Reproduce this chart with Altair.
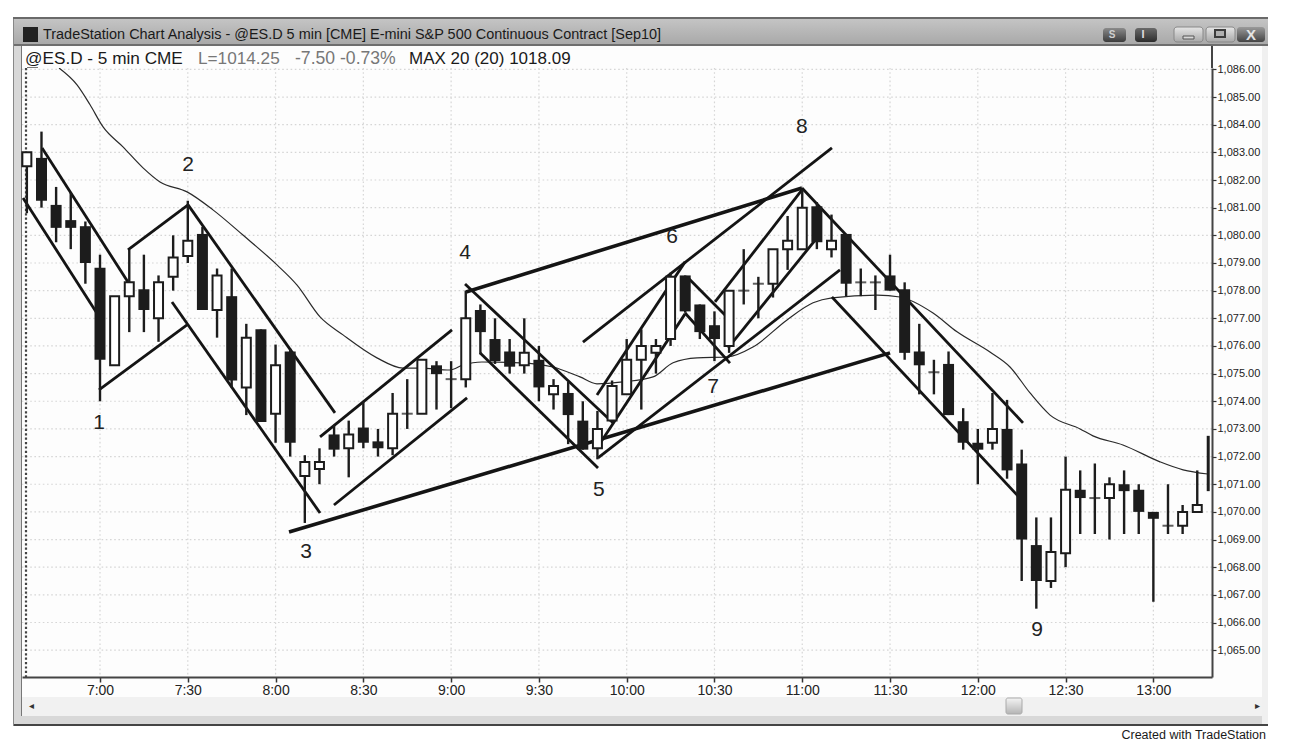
import json
import altair as alt
import pandas as pd

FONT = "Liberation Sans"
INK = "#1c1c1c"

# bar index: 0 = 7:00, one step = 5 minutes
bar_index = list(range(-5, 76))
opens = [1082.5,1082.8,1081.1,1080.55,1080.33,1078.83,1075.3,1077.8,1078.05,1077,1078.5,1079.25,1080.05,1077.3,1077.8,1074.5,1076.6,1073.55,1075.8,1071.3,1071.55,
         1072.8,1072.3,1073.05,1072.55,1072.3,1073.55,1073.55,1075.3,1074.8,1074.8,1077.3,1076.25,1075.8,1075.3,1075.5,1074.25,1074.3,1073.3,1072.3,1073.3,
         1074.25,1075.5,1075.75,1076.25,1078.55,1077.5,1076.75,1076,1078,1078.25,1078.25,1079.5,1079.5,1081.05,1079.5,1080.05,1078.3,1078.3,1078.55,1078.05,
         1075.8,1075.05,1075.35,1073.28,1072.5,1072.5,1073,1071.75,1068.8,1067.5,1068.5,1070.8,1070.5,1070.5,1071,1070.8,1070,1069.5,1069.5,1070]
closes = [1083,1081.25,1080.27,1080.27,1079,1075.5,1077.8,1078.3,1077.3,1078.3,1079.2,1079.8,1077.3,1078.55,1074.75,1076.3,1073.25,1075.3,1072.5,1071.8,1071.8,
          1072.25,1072.8,1072.5,1072.3,1073.55,1073.55,1075.5,1074.98,1074.8,1077,1076.5,1075.45,1075.25,1075.75,1074.5,1074.55,1073.5,1072.25,1073,1074.55,
          1075.5,1076,1076,1078.5,1077.25,1076.5,1076.25,1078,1078,1078.25,1079.5,1079.8,1081,1079.75,1079.8,1078.25,1078.3,1078.3,1078,1075.75,
          1075.3,1075.05,1073.5,1072.5,1072.25,1073,1071.5,1069,1067.5,1068.55,1070.8,1070.5,1070.5,1071,1070.75,1070,1069.75,1069.5,1070,1070.25]
highs = [1083,1083.75,1081.75,1081.55,1080.5,1079.3,1077.8,1079.47,1079.3,1078.55,1080,1081.25,1080.3,1078.8,1078.8,1076.8,1076.6,1076.05,1075.9,1072.05,1072.3,
         1073.15,1073.3,1074,1073,1074.3,1074.8,1075.5,1075.45,1075.45,1078,1077.5,1077,1076.25,1077,1076,1074.8,1074.7,1074,1073.65,1074.75,
         1076.25,1076.6,1076.25,1078.65,1078.55,1077.5,1077.25,1078,1079.5,1078.5,1079.5,1080.7,1081.65,1081.2,1080.75,1080.05,1078.8,1078.55,1079.3,1078.3,
         1076.8,1075.5,1075.8,1073.75,1073,1074.3,1074.05,1072.25,1069.8,1069.8,1072,1071.5,1071.75,1071.25,1071.5,1071,1070,1071,1070.25,1071.5]
lows = [1080.8,1081,1079.75,1079.5,1078.25,1074,1075.3,1076.5,1076.5,1076.15,1078,1079,1077.3,1076.3,1074.5,1073.5,1073.25,1072.5,1072,1069.6,1071,
        1072,1071.25,1072.3,1072,1072.05,1073,1073.55,1073.7,1073.75,1074.5,1075.7,1075.35,1075,1075,1074,1073.7,1072.45,1072.25,1071.9,1073.3,
        1074.25,1073.7,1075,1076,1077.2,1076.25,1075.45,1075.75,1077.5,1077,1077.75,1078.75,1079.5,1079.5,1079.2,1077.8,1077.8,1077.3,1078,1075.5,
        1074.25,1074.25,1073.5,1072.25,1071,1072.25,1071.2,1067.5,1066.5,1067.25,1068,1069.2,1069.2,1069,1069.2,1069.2,1066.75,1069.2,1069.2,1070]

# the partly hidden last bar beside the price axis
last_bar = {"k": 75.75, "high": 1072.75, "low": 1070.75}

ma_k = [-2.8,-1.57,-0.68,0.21,1.57,2.94,4.1,5.95,7.72,9.77,12.1,13.47,15.04,16.61,18.93,20.71,21.87,23.92,24.81,26.11,28.71,30.96,32.81,33.97,35.75,37.8,39.17,40.81,42.86,44.63,46.96,48.74,50.03,53.11,54.68,56.94,58.58,60.83,62.2,63.57,64.94,66.99,67.87,69.92,72.45,74.03,75.73]
ma_p = [1086.05,1085.44,1084.72,1083.92,1083.2,1082.44,1081.93,1081.57,1080.92,1080.01,1078.93,1078.2,1077.05,1076.4,1075.57,1075.2,1075.2,1075.13,1075.31,1075.42,1075.39,1075.24,1074.88,1074.63,1074.7,1074.88,1075.39,1075.57,1075.6,1075.96,1076.94,1077.56,1077.74,1077.84,1077.77,1077.19,1076.51,1075.78,1075.24,1074.3,1073.5,1073,1072.75,1072.42,1071.81,1071.52,1071.37]

# k1, p1, k2, p2
thin_lines = [
    (-3.96,1083.16,1.91,1078.31),(-5.26,1081.35,0,1077.01),(1.91,1079.47,6.02,1081.1),(-0.07,1074.41,5.95,1076.76),
    (6.02,1081.1,16.06,1073.58),(4.92,1077.59,15.04,1069.96),(15.04,1072.71,24.06,1076.58),(15.99,1070.25,25.09,1074.12),
    (24.95,1078.24,35.06,1073.22),(25.97,1075.75,34.04,1071.59),(33.01,1076.14,50.03,1083.16),(33.97,1074.23,39.99,1079.04),
    (33.97,1072.31,39.99,1077.16),(40.12,1078.5,43.06,1076.94),(39.99,1077.19,43.06,1075.38),(34.04,1071.95,50.58,1078.75),
    (42.04,1077.59,47.98,1081.64),(42.93,1075.93,49.01,1079.91),(47.98,1081.71,63.09,1073.22),(50.03,1077.77,62.88,1070.5),
]
thick_lines = [(12.92,1069.27,54.0,1075.75),(25.02,1077.95,47.98,1081.71)]

label_text = ["1","2","3","4","5","6","7","8","9"]
label_k = [-0.07,6.02,14.08,24.95,34.1,39.1,41.9,47.98,64.05]
label_p = [1073.22,1082.55,1068.55,1079.36,1070.79,1079.94,1074.52,1083.92,1065.73]

time_labels = ["7:00","7:30","8:00","8:30","9:00","9:30","10:00","10:30","11:00","11:30","12:00","12:30","13:00"]
time_ticks = [6*i for i in range(len(time_labels))]
price_ticks = list(range(1065, 1087))

X_DOMAIN = [-5.332, 76.008]
Y_DOMAIN = [1064.03, 1086.05]
X0, Y0 = 22, 68           # page position of the plot area
W, H = 1190, 609

xs = alt.Scale(domain=X_DOMAIN, nice=False, zero=False, padding=0)
ys = alt.Scale(domain=Y_DOMAIN, nice=False, zero=False, padding=0)

x_axis = alt.Axis(values=time_ticks, title=None, grid=False, zindex=1,
    labelExpr=f"{json.dumps(time_labels)}[datum.value/6]", labelFont=FONT, labelFontSize=14, labelColor="#222", labelPadding=1,
    labelOverlap=False, labelFlush=False, tickSize=5, tickColor="#333", tickWidth=1.5, domainColor="#444", domainWidth=2)
y_axis = alt.Axis(orient="right", values=price_ticks, title=None, format=",.2f", grid=False, zindex=1,
    labelFont=FONT, labelFontSize=11, labelColor="#222", labelPadding=1, labelOverlap=False, labelFlush=False, tickSize=4, tickColor="#333", tickWidth=1.2, domainColor="#444", domainWidth=2)

bars = pd.DataFrame({"k":bar_index,"o":opens,"c":closes,"h":highs,"l":lows})
bars["top"] = bars[["o","c"]].max(axis=1)
bars["bot"] = bars[["o","c"]].min(axis=1)
bars["up"] = bars.c > bars.o
real = bars[(bars.top-bars.bot) >= 0.1]
doji = bars[(bars.top-bars.bot) < 0.1]

def X(f="k"): return alt.X(f"{f}:Q", scale=xs, axis=x_axis)
def Y(f): return alt.Y(f"{f}:Q", scale=ys, axis=y_axis)

# chrome helpers (page pixels, converted to plot-relative)
def rect(x1, y1, x2, y2, fill, **kw):
    return alt.Chart(pd.DataFrame({"a":[0]})).mark_rect(fill=fill, **kw).encode(
        x=alt.value(x1-X0), x2=alt.value(x2-X0), y=alt.value(y1-Y0), y2=alt.value(y2-Y0))

def text(s, x, y, size, color="#1a1a1a", align="left", weight="normal"):
    return alt.Chart(pd.DataFrame({"t":[s]})).mark_text(font=FONT, fontSize=size, color=color, align=align, baseline="middle", fontWeight=weight).encode(
        x=alt.value(x-X0), y=alt.value(y-Y0), text="t:N")

def grad(*stops):
    n = len(stops)-1
    return alt.LinearGradient(gradient="linear", x1=0, x2=0, y1=0, y2=1,
        stops=[alt.GradientStop(offset=i/n, color=c) for i,c in enumerate(stops)])

chrome_back = [
    rect(13,17,1268,726,"#d8d8d8"),
    rect(13,17,1268,19,"#6a6a6a"),
    rect(13,19,1268,45,grad("#c4c4c4","#a8a8a8")),
    rect(13,44,1268,46,"#6e6e6e"),
    rect(22,46,1268,697,"#fdfdfd"),
    rect(1262,46,1268,724,"#f0f0f0"),
    rect(22,697,1262,716,"#f1f1f1"),
    rect(13,724,1268,726,"#444444"),
    rect(13,19,14,726,"#888888"),
    rect(21,46,22,716,"#777777"),
    rect(23,27,38,42,"#222222"),
]
grid_h = alt.Chart(pd.DataFrame({"p":price_ticks})).mark_rule(color="#d6d6d6", strokeWidth=1.2, strokeDash=[1.6,2.6]).encode(y=Y("p"))
grid_v = alt.Chart(pd.DataFrame({"k":time_ticks})).mark_rule(color="#d6d6d6", strokeWidth=1.2, strokeDash=[1.6,2.6]).encode(x=X())

wicks = alt.Chart(bars).mark_rule(color=INK, strokeWidth=2.4).encode(x=X(), y=Y("l"), y2="h:Q")
black = alt.Chart(real[~real.up]).mark_bar(size=11, color=INK).encode(x=X(), y=Y("top"), y2="bot:Q")
white = alt.Chart(real[real.up]).mark_bar(size=9, fill="white", stroke=INK, strokeWidth=2).encode(x=X(), y=Y("top"), y2="bot:Q")
dojis = alt.Chart(doji).mark_tick(color=INK, thickness=2, size=11, orient="horizontal").encode(x=X(), y=Y("c"))
last = alt.Chart(pd.DataFrame([last_bar])).mark_rule(color=INK, strokeWidth=3).encode(x=X(), y=Y("low"), y2="high:Q")
ma = alt.Chart(pd.DataFrame({"k":ma_k,"p":ma_p})).mark_line(color="#2a2a2a", strokeWidth=1.2, clip=True, interpolate="monotone").encode(x=X(), y=Y("p"), order="k:Q")

def seglayer(rows, w):
    df = pd.DataFrame(rows, columns=["k1","p1","k2","p2"])
    return alt.Chart(df).mark_rule(color="#141414", strokeWidth=w).encode(x=X("k1"), x2="k2:Q", y=Y("p1"), y2="p2:Q")

thin = seglayer(thin_lines, 2.8)
thick = seglayer(thick_lines, 3.6)
nums = alt.Chart(pd.DataFrame({"t":label_text,"k":label_k,"p":label_p})).mark_text(font=FONT, fontSize=21, color="#222", align="center", baseline="middle").encode(x=X(), y=Y("p"), text="t:N")

cursor = alt.Chart(pd.DataFrame({"a":[0]})).mark_rule(color="#444", strokeWidth=2.2, strokeDash=[2.2,2.2]).encode(x=alt.value(26-X0), y=alt.value(0), y2=alt.value(H))

chrome_front = [
    rect(1211,46,1213,68,"#444444"),
    rect(27,67,38,68,"#777777"),
    text("TradeStation Chart Analysis - @ES.D 5 min [CME] E-mini S&P 500 Continuous Contract [Sep10]", 43, 35, 14.45),
    text("@ES.D - 5 min CME", 25, 59, 17.2),
    text("L=1014.25", 198, 59, 17.2, color="#777777"),
    text("-7.50 -0.73%", 295, 59, 17.6, color="#777777"),
    text("MAX 20 (20) 1018.09", 409, 59, 17),
    text("Created with TradeStation", 1266, 735, 12.5, align="right"),
    # window buttons
    rect(1103,28,1126,42,grad("#8a8a8a","#3c3c3c"), cornerRadius=3),
    text("S", 1112, 35, 10, color="#cfcfcf", weight="bold", align="center"),
    rect(1135,28,1157,42,grad("#6a6a6a","#2c2c2c"), cornerRadius=3),
    text("I", 1143, 35, 11, color="#dddddd", weight="bold", align="center"),
    rect(1174,27,1203,42,grad("#e6e6e6","#a8a8a8"), cornerRadius=3, stroke="#888", strokeWidth=1),
    rect(1183,36,1194,39,"#d8d8d8", stroke="#555", strokeWidth=1),
    rect(1206,27,1235,42,grad("#e6e6e6","#a8a8a8"), cornerRadius=3, stroke="#888", strokeWidth=1),
    rect(1215,30,1225,37,"#b0b0b0", stroke="#3c3c3c", strokeWidth=2),
    rect(1237,27,1265,42,grad("#9a9a9a","#444444"), cornerRadius=3),
    text("X", 1251, 35, 15, color="#e4e4e4", weight="bold", align="center"),
    # scroll bar
    rect(1006,698,1022,714,grad("#f4f4f4","#b4b4b4"), cornerRadius=2, stroke="#aaaaaa", strokeWidth=1),
    text("◂", 31, 706, 10, color="#333", align="center"),
    text("▸", 1257, 706, 10, color="#333", align="center"),
]

chart = alt.layer(*chrome_back, grid_h, grid_v, cursor, ma, thin, thick, wicks, black, white, dojis, last, nums, *chrome_front).properties(
    width=W, height=H,
    autosize=alt.AutoSizeParams(type="none"),
    padding={"left":X0-8,"top":Y0-8,"right":1278-(X0-8)-W,"bottom":736-(Y0-8)-H},
    background="white",
).configure_view(stroke=None)

chart.save("out.html", embed_options={"renderer": "svg", "actions": False})
